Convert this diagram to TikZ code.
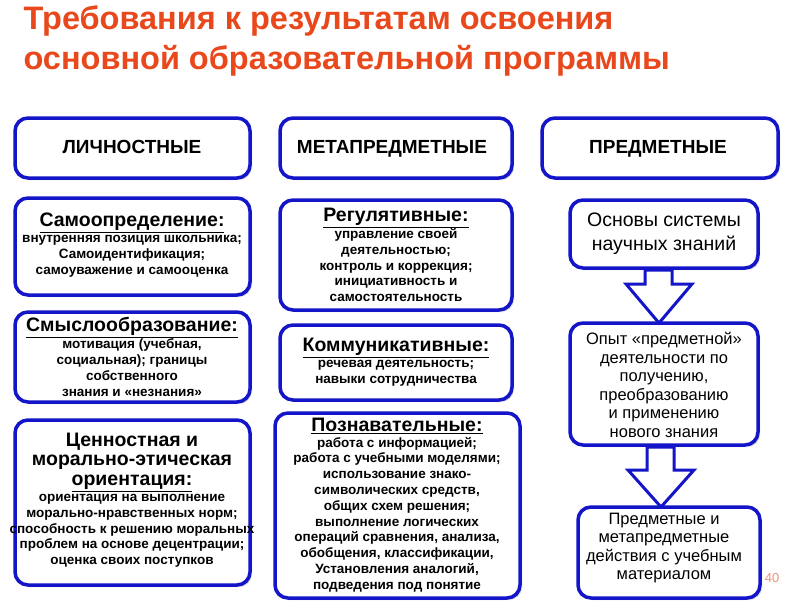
\documentclass[tikz,border=0pt]{standalone}
\usepackage{fontspec}
\setmainfont{Liberation Sans}
\usetikzlibrary{shadows}
\definecolor{bblue}{HTML}{1414C8}
\definecolor{ttl}{HTML}{E8481C}
\tikzset{
  bx/.style={draw=bblue, line width=3.5pt, rounded corners=13pt, fill=white, drop shadow={shadow xshift=2pt,shadow yshift=-2pt,opacity=0.35}},
  txt/.style={align=center, font=\bfseries\fontsize{13.5}{15.8}\selectfont},
  rtxt/.style={align=center, font=\fontsize{14}{17}\selectfont},
  hdr/.style={anchor=base, font=\bfseries\fontsize{19}{22}\selectfont},
  arr/.style={draw=bblue, line width=3pt, fill=white},
}
\newcommand{\hd}[1]{{\fontsize{19.5}{22}\selectfont\underline{#1}}}
\newcommand{\hb}[1]{{\fontsize{19.5}{22}\selectfont #1}}
\begin{document}
\begin{tikzpicture}[x=1pt,y=-1pt]
\path[use as bounding box, fill=white] (0,0) rectangle (800,600);
% title
\node[anchor=west, text=ttl, font=\bfseries\fontsize{32.5}{38}\selectfont] (t1) at (20,21) {Требования к результатам освоения};
\node[anchor=west, text=ttl, font=\bfseries\fontsize{32.5}{38}\selectfont] (t2) at (20,61) {основной образовательной  программы};
% headers
\path[bx] (15,118) rectangle (250,178);
\node[hdr] (h1) at (132,153) {ЛИЧНОСТНЫЕ};
\path[bx] (280,118) rectangle (512,178);
\node[hdr] (h2) at (392,153) {МЕТАПРЕДМЕТНЫЕ};
\path[bx] (542,118) rectangle (778,178);
\node[hdr] (h3) at (658,153) {ПРЕДМЕТНЫЕ};
% left column
\path[bx] (15,198) rectangle (250,295);
\node[txt] (l1) at (132,245) {\hd{Самоопределение:}\\внутренняя позиция школьника;\\Самоидентификация;\\самоуважение и самооценка};
\path[bx] (15,312) rectangle (250,402);
\node[txt] (l2) at (132,357) {\hd{Смыслообразование:}\\мотивация (учебная,\\социальная); границы\\собственного\\знания и «незнания»};
\path[bx] (15,420) rectangle (250,585);
\node[txt] (l3) at (132,500) {\hb{Ценностная и }\\[4pt]\hb{морально-этическая}\\[4pt]\hd{ориентация:}\\ориентация на выполнение\\морально-нравственных норм;\\способность к решению моральных\\проблем на основе децентрации;\\оценка своих поступков};
% middle column
\path[bx] (280,200) rectangle (512,310);
\node[txt] (m1) at (396,255) {\hd{Регулятивные:}\\управление своей\\деятельностью;\\контроль и коррекция;\\инициативность и\\самостоятельность};
\path[bx] (280,325) rectangle (512,400);
\node[txt] (m2) at (396,362) {\hd{Коммуникативные:}\\речевая деятельность;\\навыки сотрудничества};
\path[bx] (275,413) rectangle (520,598);
\node[txt] (m3) at (397,505) {\hd{Познавательные:}\\работа с информацией;\\работа с учебными моделями;\\использование знако-\\символических средств,\\общих схем решения;\\выполнение логических\\операций сравнения,  анализа,\\обобщения, классификации,\\Установления аналогий,\\подведения под понятие};
% right column
\path[bx] (570,200) rectangle (758,268);
\node[rtxt, font=\fontsize{19.5}{24}\selectfont] (r1) at (664,234) {Основы системы\\научных знаний};
\path[bx] (570,323) rectangle (758,445);
\node[rtxt, font=\fontsize{16.5}{18.5}\selectfont] (r2) at (664,385) {Опыт «предметной»\\деятельности по\\получению,\\преобразованию\\и применению\\нового знания};
\path[bx] (578,507) rectangle (760,598);
\node[rtxt, font=\fontsize{16.5}{18.5}\selectfont] (r3) at (664,548) {Предметные и\\метапредметные\\действия с учебным\\материалом};
% arrows
\draw[arr] (645,270) -- (672,270) -- (672,284) -- (692,284) -- (659,323) -- (626,284) -- (645,284) -- cycle;
\draw[arr] (647,447) -- (674,447) -- (674,470) -- (694,470) -- (661,507) -- (628,470) -- (647,470) -- cycle;
\node[text=ttl!60, font=\fontsize{13}{15}\selectfont] (pg) at (772,578) {40};
\end{tikzpicture}
\end{document}
